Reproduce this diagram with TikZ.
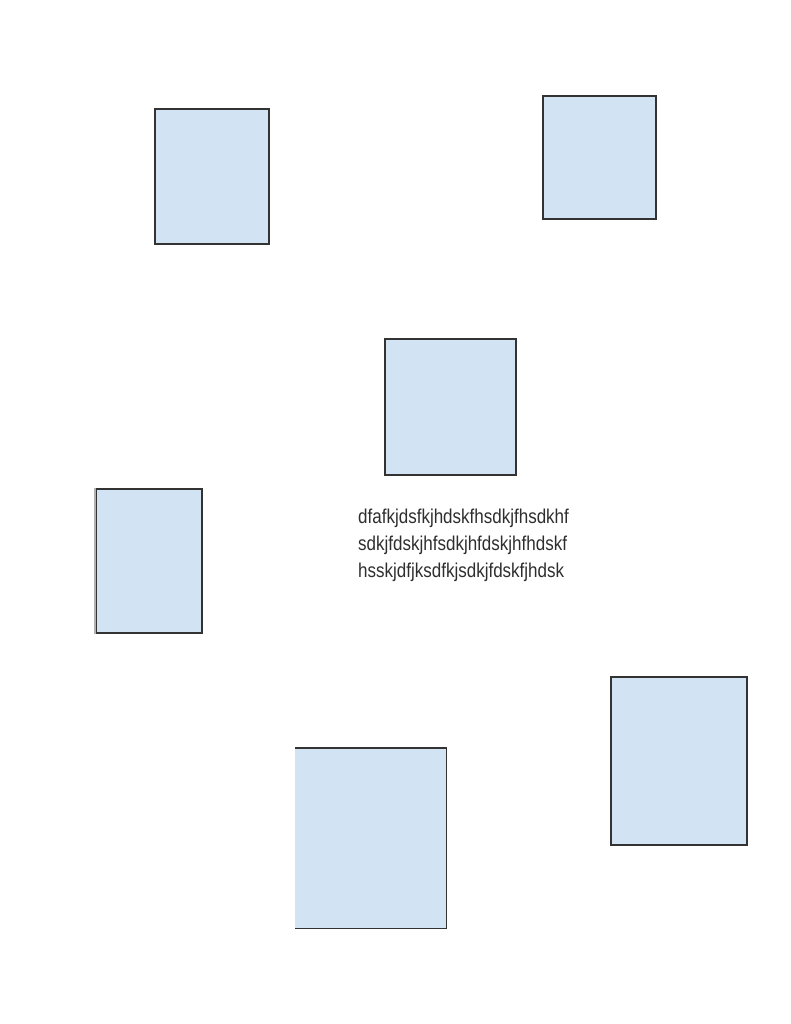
\documentclass[tikz,border=0pt]{standalone}
\usepackage{fontspec}
\setmainfont{Liberation Sans}
\newfontfamily\lbl[FakeStretch=0.85]{Liberation Sans}
\definecolor{boxfill}{HTML}{D2E3F3}
\definecolor{boxline}{HTML}{333333}
\definecolor{txt}{HTML}{2E2E2E}
\tikzset{
  panel/.style={draw=boxline, line width=1.8pt, fill=boxfill, inner sep=0pt, anchor=north west},
  panelfill/.style={fill=boxfill, inner sep=0pt, anchor=north west},
  labeltext/.style={anchor=base west, inner sep=0pt, text=txt, font=\lbl\fontsize{20}{27}\selectfont}
}
\begin{document}
\begin{tikzpicture}[x=1pt,y=-1pt]
\useasboundingbox (0,0) rectangle (791,1024);
\node[panel, minimum width=114pt, minimum height=135pt] (b1) at (154,108) {};
\node[panel, minimum width=113pt, minimum height=123pt] (b2) at (542,95) {};
\node[panel, minimum width=131pt, minimum height=136pt] (b3) at (384,338) {};
\node[panel, minimum width=106pt, minimum height=144pt] (b4) at (95,488) {};
\draw[gray!60, line width=1.2pt] (b4.north west) -- (b4.south west);
\node[panelfill, minimum width=151pt, minimum height=180pt] (b5) at (295,748) {};
\draw[boxline, line width=1.8pt] (b5.north west) -- (b5.north east) -- (b5.south east) -- (b5.south west);
\node[panel, minimum width=136pt, minimum height=168pt] (b6) at (610,676) {};
\node[labeltext] (t1) at (358,523) {dfafkjdsfkjhdskfhsdkjfhsdkhf};
\node[labeltext] (t2) at (358,550) {sdkjfdskjhfsdkjhfdskjhfhdskf};
\node[labeltext] (t3) at (358,577) {hsskjdfjksdfkjsdkjfdskfjhdsk};
\end{tikzpicture}
\end{document}
